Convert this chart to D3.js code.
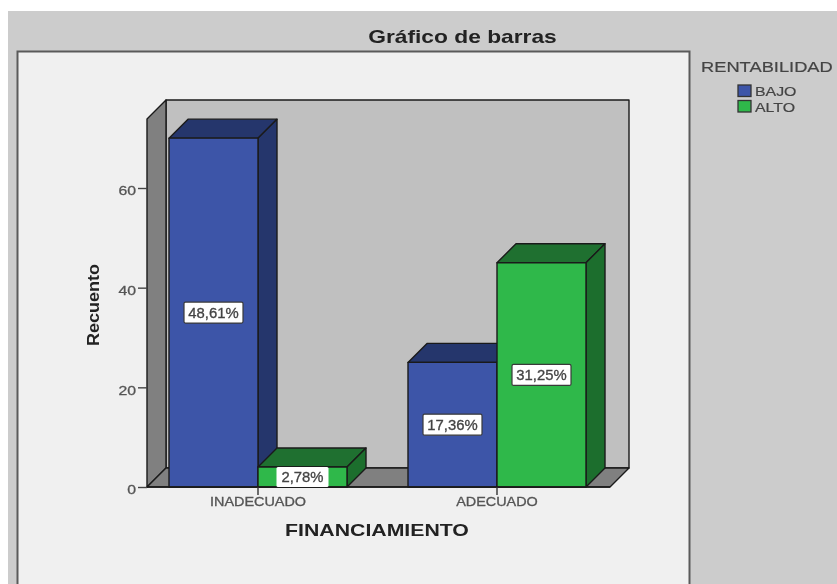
<!DOCTYPE html>
<html><head><meta charset="utf-8">
<script src="https://cdn.jsdelivr.net/npm/d3@7/dist/d3.min.js"></script>
<style>html,body{margin:0;padding:0;background:#fff}svg{display:block;filter:blur(0.5px)}text{font-family:"Liberation Sans",Arial,sans-serif}</style>
</head><body><svg id="c" width="837" height="584"></svg>
<script>
const categories = ["INADECUADO","ADECUADO"];
const seriesNames = ["BAJO","ALTO"];
const bajoValues = [70,25];
const altoValues = [4,45];
const bajoLabels = ["48,61%","17,36%"];
const altoLabels = ["2,78%","31,25%"];
const yTicks = [0,20,40,60];
const fills = {BAJO:{face:"#3d55a8",side:"#25366c",top:"#25366c"},ALTO:{face:"#2fb84a",side:"#1c6e2d",top:"#1f7030"}};

const svg = d3.select("#c");
const line = "#1a1a1a";
const d = 19;
const y = d3.scaleLinear().domain([0,60]).range([487,188]);
const x0 = d3.scaleBand().domain(categories).range([138.5,616.5]);
const x1 = d3.scaleBand().domain(seriesNames).range([-89,89]);
const left = 147, right = 610, base = y(0), topY = 119;

// widen text horizontally, as in the stretched reference image
const stretch = (sel,f)=>sel.each(function(){
  const w=this.getComputedTextLength();
  d3.select(this).attr("textLength",w*f).attr("lengthAdjust","spacingAndGlyphs");
});

svg.append("rect").attr("x",8).attr("y",11).attr("width",829).attr("height",573).attr("fill","#cccccc");
svg.append("rect").attr("x",17.5).attr("y",51.5).attr("width",672).attr("height",540).attr("fill","#f0f0f0").attr("stroke","#5a5a5a").attr("stroke-width",2);

const poly = (pts,fill,sw=1.4)=>svg.append("polygon").attr("points",pts.map(p=>p.join(",")).join(" ")).attr("fill",fill).attr("stroke",line).attr("stroke-width",sw).attr("stroke-linejoin","round");
poly([[left+d,topY-d],[right+d,topY-d],[right+d,base-d],[left+d,base-d]],"#c0c0c0");
poly([[left,topY],[left+d,topY-d],[left+d,base-d],[left,base]],"#808080");
poly([[left,base],[left+d,base-d],[right+d,base-d],[right,base]],"#808080");

const gy = svg.append("g").attr("transform",`translate(${left},0)`)
  .call(d3.axisLeft(y).tickValues(yTicks).tickSize(9).tickPadding(2));
gy.select(".domain").remove();
gy.selectAll("line").attr("stroke","#444").attr("stroke-width",1.4);
gy.selectAll("text").attr("font-size",13.5).attr("dy","0.5em").attr("fill","#555").attr("stroke","#555").attr("stroke-width",0.3)
  .style("font-family",'"Liberation Sans",Arial,sans-serif').call(stretch,1.17);

const rows = [];
categories.forEach((c,i)=>{
  rows.push({c,s:"BAJO",v:bajoValues[i],l:bajoLabels[i]});
  rows.push({c,s:"ALTO",v:altoValues[i],l:altoLabels[i]});
});
const bx = r=>x0(r.c)+x0.bandwidth()/2+x1(r.s);
rows.forEach(r=>{
  const a=bx(r), b=a+x1.bandwidth(), t=y(r.v), f=fills[r.s];
  poly([[a,t],[a+d,t-d],[b+d,t-d],[b,t]],f.top);
  poly([[b,t],[b+d,t-d],[b+d,base-d],[b,base]],f.side);
  poly([[a,t],[b,t],[b,base],[a,base]],f.face);
});
svg.append("line").attr("x1",left).attr("x2",right).attr("y1",base).attr("y2",base).attr("stroke",line).attr("stroke-width",1.6);

const gx = svg.append("g").attr("transform",`translate(0,${base})`)
  .call(d3.axisBottom(x0).tickSize(8).tickPadding(2));
gx.select(".domain").remove();
gx.selectAll("line").attr("stroke","#333").attr("stroke-width",1.4);
gx.selectAll("text").attr("font-size",12).attr("fill","#555").attr("stroke","#555").attr("stroke-width",0.3)
  .style("font-family",'"Liberation Sans",Arial,sans-serif').call(stretch,1.2);

rows.forEach(r=>{
  const cx=bx(r)+x1.bandwidth()/2, cy=(y(r.v)+base)/2, w=r.l.length>5?59:52, h=r.v<10?20:21;
  svg.append("rect").attr("x",cx-w/2).attr("y",cy-h/2).attr("width",w).attr("height",h).attr("rx",1.5)
    .attr("fill","#fff").attr("stroke",r.v<10?"none":"#3a3a3a").attr("stroke-width",1.2);
  svg.append("text").attr("x",cx).attr("y",cy+5).attr("text-anchor","middle").attr("font-size",14).attr("fill","#444").attr("stroke","#444").attr("stroke-width",0.3).text(r.l).call(stretch,1.06);
});

svg.append("text").attr("x",462.5).attr("y",43).attr("text-anchor","middle").attr("font-size",18.5).attr("font-weight","bold").attr("fill","#222").text("Gráfico de barras").call(stretch,1.23);
svg.append("text").attr("transform","translate(99,305) rotate(-90)").attr("text-anchor","middle").attr("font-size",16).attr("font-weight","bold").attr("fill","#222").attr("textLength",82).attr("lengthAdjust","spacingAndGlyphs").text("Recuento");
svg.append("text").attr("x",377).attr("y",536).attr("text-anchor","middle").attr("font-size",17).attr("font-weight","bold").attr("fill","#222").text("FINANCIAMIENTO").call(stretch,1.25);

svg.append("text").attr("x",701).attr("y",72).attr("font-size",15.5).attr("fill","#444").attr("stroke","#444").attr("stroke-width",0.2).text("RENTABILIDAD").call(stretch,1.18);
seriesNames.forEach((s,i)=>{
  const ly=85+i*15.5;
  svg.append("rect").attr("x",738).attr("y",ly).attr("width",13).attr("height",11.5).attr("fill",fills[s].face).attr("stroke","#333").attr("stroke-width",1.3);
  svg.append("text").attr("x",755).attr("y",ly+11).attr("font-size",12.5).attr("fill","#444").attr("stroke","#444").attr("stroke-width",0.2).text(s).call(stretch,1.27);
});
</script></body></html>
